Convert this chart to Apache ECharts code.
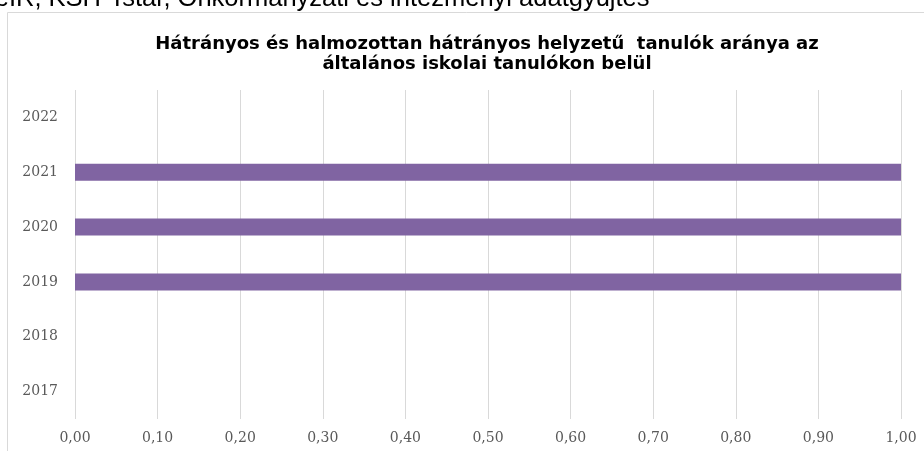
<!DOCTYPE html>
<html>
	<head>
		<meta charset="utf-8">
		<title></title>
		<script src="https://cdn.jsdelivr.net/npm/echarts@6/dist/echarts.min.js"></script>
		<style>
			html, body { margin: 0; padding: 0; background: #fff; }
		</style>
	</head>
	<body>
		<div id="my" style="width: 924px;height:451px;"></div>

		<script>
			var myChart = echarts.init(document.getElementById('my'));

			// évek (alulról felfelé)
			var years = ['2017', '2018', '2019', '2020', '2021', '2022'];
			// arány
			var values = [null, null, 1.00, 1.00, 1.00, null];
			// x tengely
			var xMin = 0, xMax = 1, xStep = 0.1;

			var option = {
				animation: false,
				title: {
					text: 'Hátrányos és halmozottan hátrányos helyzetű  tanulók aránya az\náltalános iskolai tanulókon belül',
					left: 482,
					top: 29,
					textAlign: 'center',
					textStyle: {
						fontFamily: 'DejaVu Sans',
						fontWeight: 'bold',
						fontSize: 18,
						lineHeight: 20,
						color: '#000'
					}
				},
				graphic: [
					{//keret
						type: 'rect',
						shape: { x: 7.5, y: 12.5, width: 1000, height: 500 },
						style: { fill: 'none', stroke: '#d9d9d9', lineWidth: 1 }
					},
					{//levágott forrás sor
						type: 'text',
						left: -18,
						top: -14,
						style: {
							text: 'TeIR, KSH-Tstar, Önkormányzati és intézményi adatgyűjtés',
							font: '25.5px "Liberation Sans"',
							fill: '#000'
						}
					}
				],
				grid: {
					left: 75,
					right: 23,
					top: 90,
					bottom: 32
				},
				xAxis: {
					type: 'value',
					min: xMin,
					max: xMax,
					interval: xStep,
					axisLine: { show: false },
					axisTick: { show: false },
					splitLine: { lineStyle: { color: '#d9d9d9' } },
					axisLabel: {
						margin: 12,
						fontFamily: 'DejaVu Serif',
						fontSize: 14,
						color: '#595959',
						formatter: function (v) { return v.toFixed(2).replace('.', ','); }
					}
				},
				yAxis: {
					type: 'category',
					data: years,
					axisLine: { show: false },
					axisTick: { show: false },
					axisLabel: {
						margin: 17,
						fontFamily: 'DejaVu Serif',
						fontSize: 14,
						color: '#595959'
					}
				},
				series: [
					{
						type: 'bar',
						data: values,
						barWidth: 17,
						itemStyle: { color: '#8064a2' }
					}
				]
			};

			myChart.setOption(option);
		</script>
	</body>
</html>
